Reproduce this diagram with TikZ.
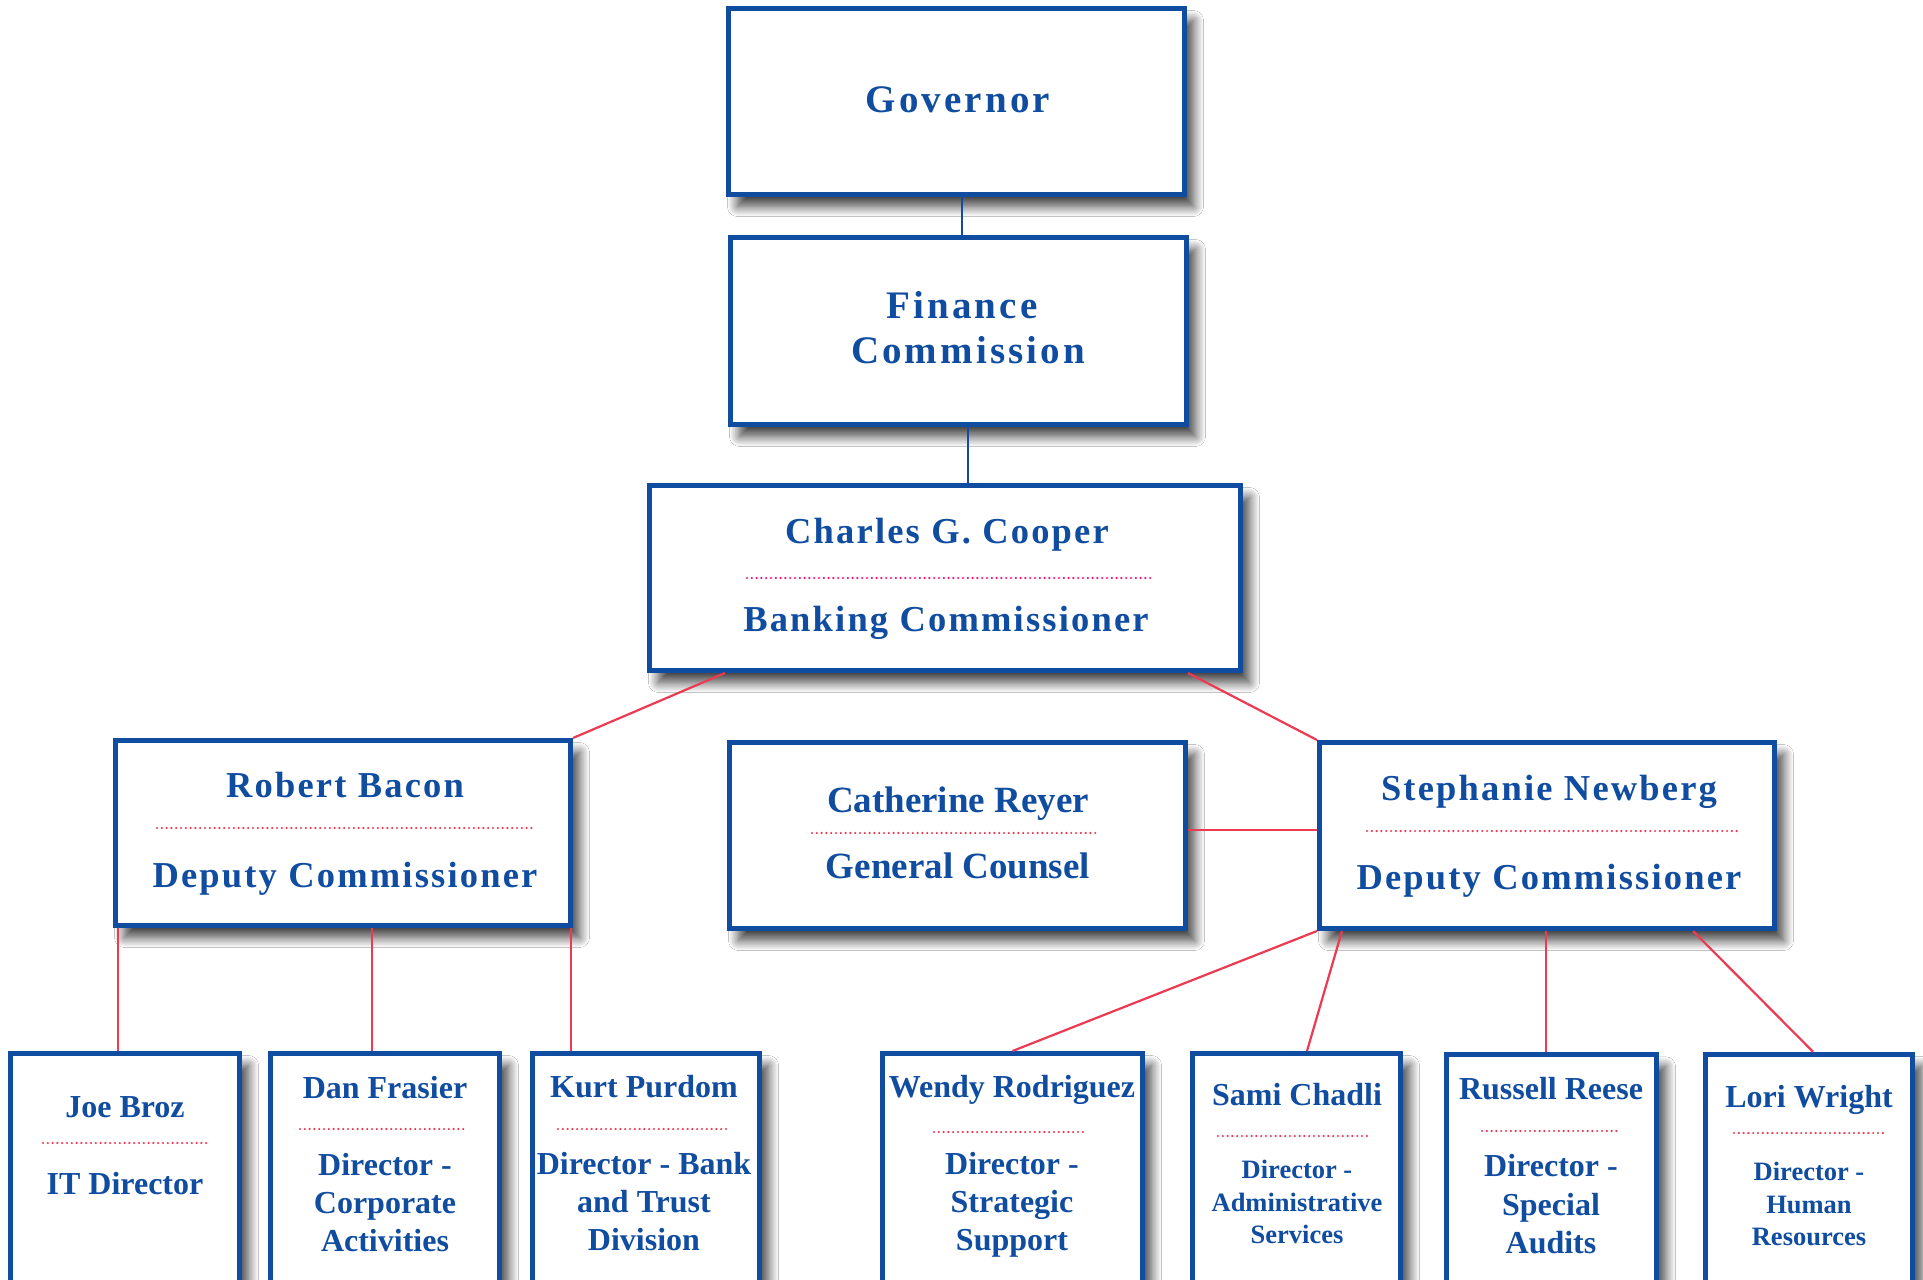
\documentclass[tikz,border=0pt]{standalone}
\usepackage{fontspec}
\setmainfont{Liberation Serif}
\newfontfamily\widefont[LetterSpace=8]{Liberation Serif}
\newfontfamily\spacedfont[LetterSpace=6]{Liberation Serif}
\usetikzlibrary{shadows.blur}
\definecolor{boxblue}{RGB}{16,76,160}
\definecolor{linkred}{RGB}{236,58,82}
\definecolor{dotmag}{RGB}{232,20,120}
\tikzset{
  box/.style={draw=boxblue, line width=5pt, fill=white, rectangle, inner sep=0pt,
    blur shadow={shadow xshift=9pt, shadow yshift=-12pt, shadow blur radius=10pt, shadow opacity=75, shadow blur steps=15}},
  toptxt/.style={text=boxblue, inner sep=0pt, anchor=base, font=\widefont\bfseries\fontsize{39}{42}\selectfont},
  midtxt/.style={text=boxblue, inner sep=0pt, anchor=base, font=\spacedfont\bfseries\fontsize{36.5}{40}\selectfont},
  plaintxt/.style={text=boxblue, inner sep=0pt, anchor=base, font=\bfseries\fontsize{37}{40}\selectfont},
  lowtxt/.style={text=boxblue, inner sep=0pt, anchor=base, font=\bfseries\fontsize{32}{36}\selectfont},
  smalltxt/.style={text=boxblue, inner sep=0pt, anchor=base, font=\bfseries\fontsize{26.5}{30}\selectfont},
  dotline/.style={draw=linkred, line width=2.4pt, line cap=round, dash pattern=on 0pt off 4.8pt},
  blueline/.style={draw=boxblue, line width=2.5pt},
  redline/.style={draw=linkred, line width=2.2pt},
}
\begin{document}
\begin{tikzpicture}[x=1pt,y=-1pt]
\useasboundingbox (0,0) rectangle (1923,1280);
\fill[white] (0,0) rectangle (1923,1280);
\clip (0,0) rectangle (1923,1280);

% ---------- boxes ----------
\node[box, minimum width=456pt, minimum height=186pt] (gov) at (956.5,101.5) {};
\node[box, minimum width=456pt, minimum height=187pt] (fin) at (958.5,331) {};
\node[box, minimum width=591pt, minimum height=185pt] (cha) at (945,578) {};
\node[box, minimum width=455pt, minimum height=185pt] (rob) at (343,833) {};
\node[box, minimum width=456pt, minimum height=186pt] (cat) at (957.5,835.5) {};
\node[box, minimum width=455pt, minimum height=186pt] (ste) at (1547,835.5) {};

\node[box, minimum width=229pt, minimum height=276.5pt] (joe) at (125,1191.75) {};
\node[box, minimum width=229pt, minimum height=276.5pt] (dan) at (385,1191.75) {};
\node[box, minimum width=227pt, minimum height=276.5pt] (kur) at (646,1191.75) {};
\node[box, minimum width=260pt, minimum height=276.5pt] (wen) at (1012.5,1191.75) {};
\node[box, minimum width=208pt, minimum height=276.5pt] (sam) at (1296.5,1191.75) {};
\node[box, minimum width=210pt, minimum height=276.5pt] (rus) at (1551.5,1193) {};
\node[box, minimum width=207pt, minimum height=276.5pt] (lor) at (1809,1192.5) {};

% ---------- connectors ----------
\draw[blueline] ([xshift=5.5pt]gov.south) -- ([xshift=5.5pt]gov.south |- fin.north);
\draw[blueline] ([xshift=9.5pt]fin.south) -- ([xshift=9.5pt]fin.south |- cha.north);
\draw[redline] ([xshift=78pt]cha.south west) -- (rob.north east);
\draw[redline] ([xshift=-55pt]cha.south east) -- (ste.north west);
\draw[redline] ([yshift=5.5pt]cat.east) -- ([yshift=5.5pt]cat.east -| ste.west);
\draw[redline] ([xshift=-7pt]joe.north) -- ([xshift=-7pt]joe.north |- rob.south);
\draw[redline] ([xshift=-13pt]dan.north) -- ([xshift=-13pt]dan.north |- rob.south);
\draw[redline] ([xshift=-2pt]rob.south east) -- ([xshift=-2pt]rob.south east |- kur.north);
\draw[redline] (ste.south west) -- (wen.north);
\draw[redline] ([xshift=25pt]ste.south west) -- ([xshift=10.5pt]sam.north);
\draw[redline] ([xshift=-5.5pt]rus.north) -- ([xshift=-5.5pt]rus.north |- ste.south);
\draw[redline] ([xshift=-84pt]ste.south east) -- ([xshift=4pt]lor.north);

% ---------- texts ----------
\node[toptxt] (govt) at (958,112) {Governor};
\node[toptxt] (fint1) at (962,318) {Finance};
\node[toptxt] (fint2) at (968,363) {Commission};

\node[midtxt] (chat1) at (947,543) {Charles G. Cooper};
\draw[dotline, draw=dotmag] (747,578) -- (1154,578);
\node[midtxt] (chat2) at (946,631) {Banking Commissioner};

\node[midtxt] (robt1) at (345,797) {Robert Bacon};
\draw[dotline] (157,828) -- (532,828);
\node[midtxt] (robt2) at (345,887) {Deputy Commissioner};

\node[plaintxt] (catt1) at (958,812) {Catherine Reyer};
\draw[dotline] (812,833) -- (1098,833);
\node[plaintxt] (catt2) at (958,878) {General Counsel};

\node[midtxt] (stet1) at (1549,800) {Stephanie Newberg};
\draw[dotline] (1367,831) -- (1741,831);
\node[midtxt] (stet2) at (1549,889) {Deputy Commissioner};

% bottom row
\node[lowtxt] (joet1) at (125,1117) {Joe Broz};
\draw[dotline] (43,1143) -- (209,1143);
\node[lowtxt] (joet2) at (125,1194) {IT Director};

\node[lowtxt] (dant1) at (385,1098) {Dan Frasier};
\draw[dotline] (300,1129) -- (467,1129);
\node[lowtxt] (dant2) at (385,1175) {Director -};
\node[lowtxt] (dant3) at (385,1213) {Corporate};
\node[lowtxt] (dant4) at (385,1251) {Activities};

\node[lowtxt] (kurt1) at (644,1097) {Kurt Purdom};
\draw[dotline] (558,1129) -- (726,1129);
\node[lowtxt] (kurt2) at (644,1174) {Director - Bank};
\node[lowtxt] (kurt3) at (644,1212) {and Trust};
\node[lowtxt] (kurt4) at (644,1250) {Division};

\node[lowtxt] (went1) at (1012,1097) {Wendy Rodriguez};
\draw[dotline] (934,1132) -- (1084,1132);
\node[lowtxt] (went2) at (1012,1174) {Director -};
\node[lowtxt] (went3) at (1012,1212) {Strategic};
\node[lowtxt] (went4) at (1012,1250) {Support};

\node[lowtxt] (samt1) at (1297,1105) {Sami Chadli};
\draw[dotline] (1218,1136) -- (1368,1136);
\node[smalltxt] (samt2) at (1297,1178) {Director -};
\node[smalltxt] (samt3) at (1297,1211) {Administrative};
\node[smalltxt] (samt4) at (1297,1243) {Services};

\node[lowtxt] (rust1) at (1551,1099) {Russell Reese};
\draw[dotline] (1482,1131) -- (1620,1131);
\node[lowtxt] (rust2) at (1551,1176) {Director -};
\node[lowtxt] (rust3) at (1551,1215) {Special};
\node[lowtxt] (rust4) at (1551,1253) {Audits};

\node[lowtxt] (lort1) at (1809,1107) {Lori Wright};
\draw[dotline] (1734,1133) -- (1884,1133);
\node[smalltxt] (lort2) at (1809,1180) {Director -};
\node[smalltxt] (lort3) at (1809,1213) {Human};
\node[smalltxt] (lort4) at (1809,1245) {Resources};
\end{tikzpicture}
\end{document}
